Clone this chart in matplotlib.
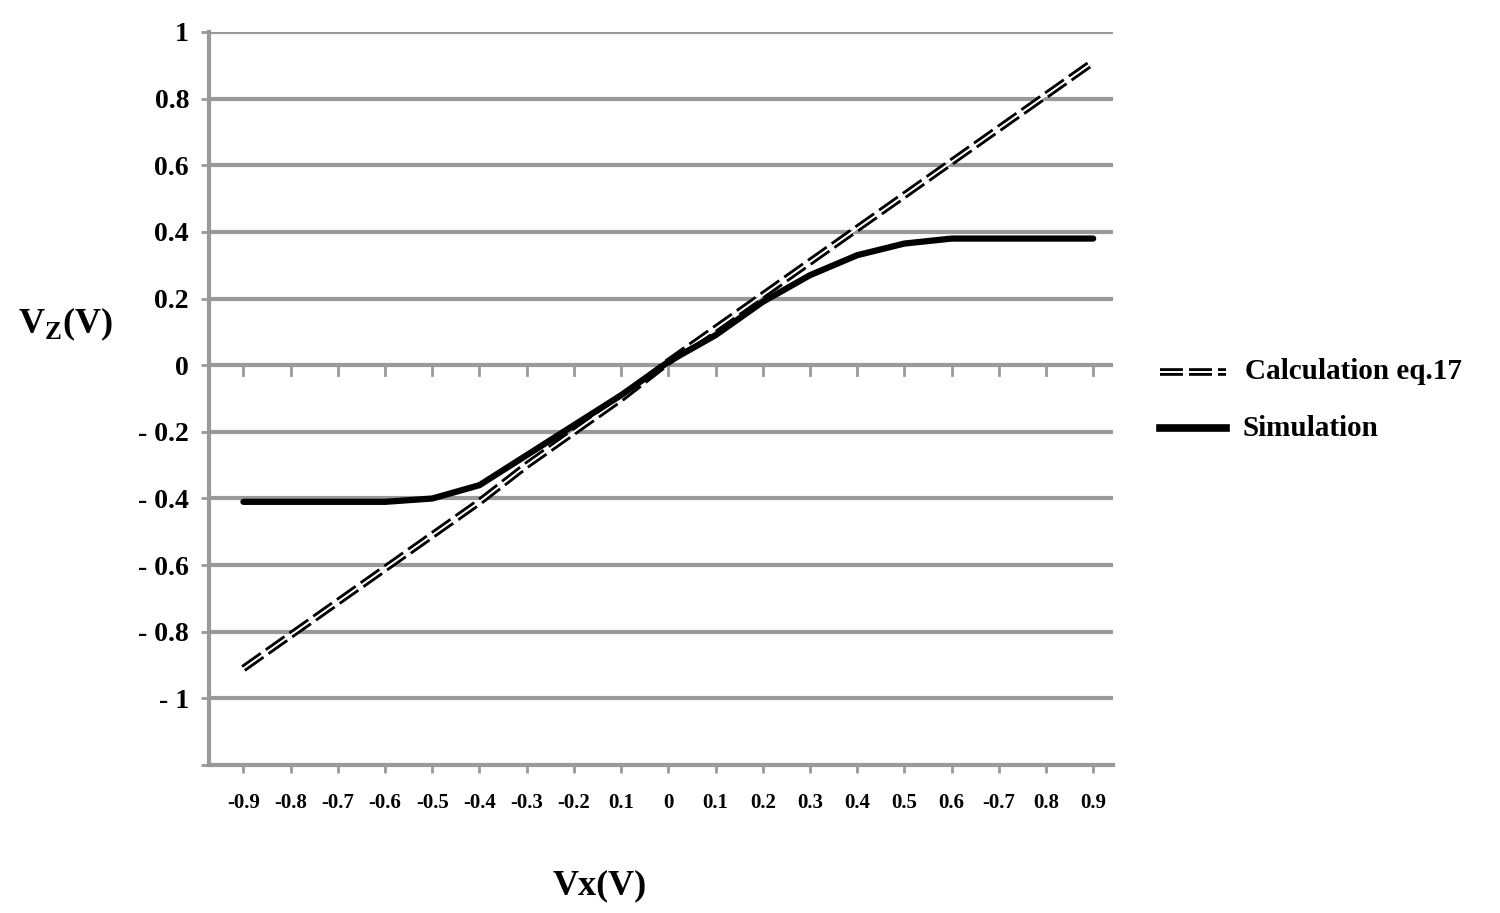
import numpy as np
import matplotlib.pyplot as plt

plt.rcParams['font.family'] = ['Liberation Serif', 'DejaVu Serif']
plt.rcParams['font.weight'] = 'bold'

x_labels = ['-0.9', '-0.8', '-0.7', '-0.6', '-0.5', '-0.4', '-0.3', '-0.2', '0.1', '0',
            '0.1', '0.2', '0.3', '0.4', '0.5', '0.6', '-0.7', '0.8', '0.9']
calculation = [-0.91, -0.81, -0.71, -0.61, -0.51, -0.41, -0.30, -0.20, -0.10, 0.01,
               0.11, 0.21, 0.31, 0.41, 0.51, 0.61, 0.71, 0.81, 0.91]
simulation = [-0.41, -0.41, -0.41, -0.41, -0.40, -0.36, -0.27, -0.18, -0.09, 0.01,
              0.09, 0.19, 0.27, 0.33, 0.365, 0.38, 0.38, 0.38, 0.38]
y_ticks = [-1.2, -1, -0.8, -0.6, -0.4, -0.2, 0, 0.2, 0.4, 0.6, 0.8, 1]
y_labels = ['', '- 1', '- 0.8', '- 0.6', '- 0.4', '- 0.2', '0', '0.2', '0.4', '0.6', '0.8', '1']

fig = plt.figure(figsize=(15, 9.13), dpi=100)
ax = fig.add_axes([0.139, 0.162, 0.603, 0.803])
idx = np.arange(len(x_labels))

for y in y_ticks[1:]:
    ax.axhline(y, color='#999999', lw=3, zorder=0)

# double dashed line: thick black dashes with a white core
ax.plot(idx, calculation, color='black', lw=5.5, dashes=(3, 0.8), zorder=3)
ax.plot(idx, calculation, color='white', lw=1.4, zorder=4)
ax.plot(idx, simulation, color='black', lw=4.5, solid_capstyle='round', zorder=5)

# tick marks along zero line
for i in idx:
    ax.plot([i, i], [0, -0.03], color='#999999', lw=2, zorder=1)

ax.set_xlim(-0.74, 18.42)
ax.set_ylim(-1.2, 1.0)
ax.set_yticks(y_ticks)
ax.set_yticklabels(y_labels, fontsize=20, fontweight='bold')
ax.set_xticks(idx)
ax.set_xticklabels(x_labels, fontsize=15, fontweight='bold')
ax.tick_params(axis='x', length=6, width=2, color='#999999', pad=14)
ax.tick_params(axis='y', length=6, width=2, color='#999999', pad=8)
for s in ['top', 'right']:
    ax.spines[s].set_visible(False)
for s in ['left', 'bottom']:
    ax.spines[s].set_color('#999999')
    ax.spines[s].set_linewidth(3)

fig.text(0.012, 0.645, r'V$_{\mathregular{Z}}$(V)', fontsize=26, fontweight='bold', va='center')
fig.text(0.4, 0.03, 'Vx(V)', fontsize=26, fontweight='bold', ha='center', va='center')

# legend
lx0, lx1 = 0.773, 0.817
ly1, ly2 = 0.593, 0.531
fig.lines.append(plt.Line2D([lx0, lx1], [ly1, ly1], transform=fig.transFigure, color='black', lw=5.5, dashes=(3, 0.8)))
fig.lines.append(plt.Line2D([lx0, lx1], [ly1, ly1], transform=fig.transFigure, color='white', lw=1.4))
fig.lines.append(plt.Line2D([lx0, lx1], [ly2, ly2], transform=fig.transFigure, color='black', lw=5.5))
fig.text(0.83, ly1, 'Calculation eq.17', fontsize=21, fontweight='bold', va='center')
fig.text(0.828, ly2, 'Simulation', fontsize=21, fontweight='bold', va='center')

fig.savefig('out.png', dpi=100)
